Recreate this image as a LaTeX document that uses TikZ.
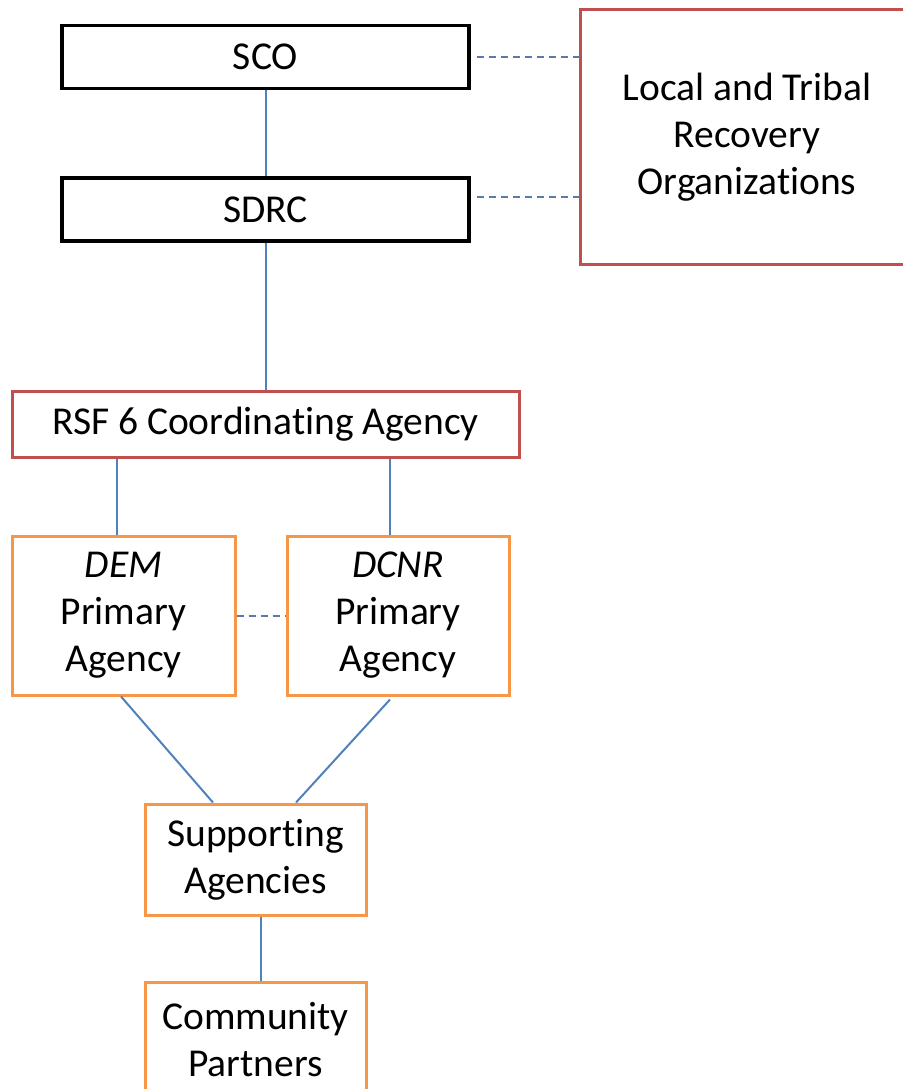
\documentclass[tikz,border=0pt]{standalone}
\usepackage{fontspec}
\setmainfont[RawFeature={-liga;-clig;-calt;-dlig}]{Carlito}
\definecolor{boxred}{HTML}{C0504D}
\definecolor{boxorange}{HTML}{F79646}
\definecolor{lineblue}{HTML}{4F81BD}
\definecolor{dashblue}{HTML}{5A7BA8}
\begin{document}
\begin{tikzpicture}[x=1pt,y=-1pt,
  box/.style={draw, rectangle, fill=white, align=center, inner sep=0pt,
    font=\fontsize{39.5}{47}\selectfont, line width=3pt},
  blackbox/.style={box, draw=black, line width=3.5pt},
  redbox/.style={box, draw=boxred},
  orangebox/.style={box, draw=boxorange},
  conn/.style={draw=lineblue, line width=2pt},
  dconn/.style={draw=dashblue, line width=2pt, dash pattern=on 7pt off 5pt}]
\useasboundingbox (0,0) rectangle (902,1089);
\node[blackbox, minimum width=407, minimum height=63] (SCO) at (265.5,57) {SCO};
\node[blackbox, minimum width=407, minimum height=63] (SDRC) at (265.5,209.5) {SDRC};
\node[redbox, minimum width=334, minimum height=254] (Local) at (747,137) {Local and Tribal\\Recovery\\Organizations};
\node[redbox, minimum width=507, minimum height=66] (RSF) at (265.5,424) {RSF 6 Coordinating Agency};
\node[orangebox, minimum width=223, minimum height=159] (DEM) at (123.5,615.5) {\textit{DEM}\\Primary\\Agency};
\node[orangebox, minimum width=222, minimum height=159] (DCNR) at (398,615.5) {\textit{DCNR}\\Primary\\Agency};
\node[orangebox, minimum width=221, minimum height=111] (Supp) at (255.5,859.5) {Supporting\\Agencies};
\node[orangebox, minimum width=221, minimum height=116] (Comm) at (255.5,1040) {Community\\Partners};
\draw[conn] (SCO.south) -- (SDRC.north);
\draw[conn] (SDRC.south) -- (RSF.north);
\draw[conn] ([xshift=-6.5pt]DEM.north) -- ([xshift=-6.5pt]DEM.north |- RSF.south);
\draw[conn] ([xshift=-8pt]DCNR.north) -- ([xshift=-8pt]DCNR.north |- RSF.south);
\draw[conn] ([xshift=-2.5pt]DEM.south) -- ([xshift=-42.5pt]Supp.north);
\draw[conn] ([xshift=-8pt,yshift=-3pt]DCNR.south) -- ([xshift=40.5pt]Supp.north);
\draw[conn] ([xshift=5.5pt]Supp.south) -- ([xshift=5.5pt]Comm.north);
\draw[dconn] ([xshift=6pt]SCO.east) -- (SCO.east -| Local.west);
\draw[dconn] ([xshift=6pt,yshift=13pt]SDRC.east) -- ([yshift=13pt]SDRC.east -| Local.west);
\draw[dconn] (DEM.east) -- (DCNR.west);
\end{tikzpicture}
\end{document}
